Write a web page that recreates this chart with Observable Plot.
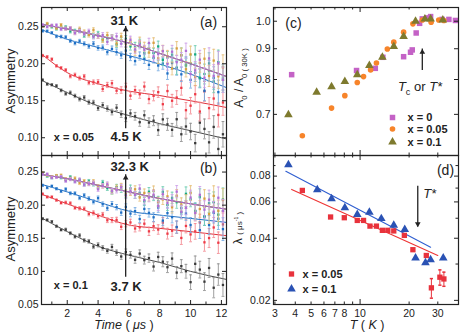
<!DOCTYPE html>
<html><head><meta charset="utf-8">
<script src="https://cdn.jsdelivr.net/npm/d3@7"></script>
<script src="https://cdn.jsdelivr.net/npm/@observablehq/plot@0.6"></script>
<style>
html,body{margin:0;padding:0;background:#fff;}
#fig{position:relative;width:463px;height:335px;overflow:hidden;font-family:"Liberation Sans",Arial,Helvetica,sans-serif;color:#222;background:#fff;}
.lbl{position:absolute;white-space:nowrap;transform:translate(-50%,-50%);line-height:1;}
.lbl sub,.lbl sup{font-size:65%;}
</style></head><body><div id="fig"></div>
<script>
// ---------------- DATA ----------------
const timeUs = [0.4,0.7,1.0,1.3,1.6,1.9,2.2,2.5,2.8,3.1,3.4,3.7,4.0,4.3,4.6,4.9,5.2,5.5,5.8,6.1,6.4,6.7,7.0,7.3,7.6,7.9,8.2,8.5,8.8,9.1,9.4,9.7,10.0,10.3,10.6,10.9,11.2,11.5,11.8,12.1];
const errBar = [0.0016,0.0017,0.0017,0.0018,0.0019,0.0021,0.0022,0.0023,0.0025,0.0026,0.0028,0.003,0.0031,0.0033,0.0035,0.0038,0.004,0.0043,0.0046,0.0049,0.0052,0.0055,0.0059,0.0063,0.0067,0.0071,0.0076,0.0081,0.0086,0.0092,0.0098,0.0104,0.0111,0.0118,0.0126,0.0134,0.0143,0.0152,0.0162,0.0172];

// panel (a): x = 0.05, 4.5 K ... 31 K
const asymA_black = [0.178,0.1725,0.1715,0.170,0.164,0.1595,0.1608,0.1565,0.1522,0.1544,0.1479,0.1475,0.1399,0.144,0.1394,0.1347,0.1406,0.1317,0.1264,0.1329,0.129,0.121,0.1304,0.1205,0.123,0.1103,0.1248,0.1181,0.1107,0.125,0.1047,0.1152,0.1084,0.0927,0.1204,0.1119,0.0938,0.1146,0.0848,0.1047];
const asymA_red = [0.211,0.2093,0.2061,0.1971,0.1943,0.1914,0.1831,0.1849,0.1805,0.1829,0.1745,0.1749,0.1753,0.1659,0.1713,0.1736,0.1636,0.1645,0.169,0.1568,0.1643,0.1589,0.1692,0.1523,0.1566,0.1616,0.1453,0.1631,0.150,0.1543,0.1674,0.1372,0.1433,0.1588,0.1354,0.1626,0.140,0.153,0.1308,0.1476];
const asymA_blue = [0.2443,0.244,0.2418,0.237,0.2366,0.2358,0.2309,0.2278,0.2304,0.227,0.2235,0.2271,0.2214,0.2219,0.2156,0.2201,0.2158,0.2115,0.2177,0.2091,0.2036,0.2104,0.2063,0.1985,0.2077,0.1976,0.2002,0.1869,0.2009,0.1937,0.1857,0.199,0.1782,0.1878,0.1801,0.1635,0.1903,0.1807,0.1616,0.1814];
const asymA_green = [0.2515,0.2529,0.2498,0.2471,0.249,0.2494,0.2438,0.2443,0.2447,0.2382,0.2408,0.2374,0.2406,0.233,0.2341,0.2353,0.2259,0.2313,0.2336,0.2234,0.2237,0.2276,0.2146,0.2209,0.2143,0.2234,0.2053,0.2084,0.2122,0.1948,0.2115,0.1974,0.2006,0.2126,0.1811,0.1861,0.2005,0.1761,0.2022,0.1786];
const asymA_orange = [0.251,0.2542,0.2513,0.2483,0.2524,0.2473,0.2481,0.2422,0.2469,0.243,0.2389,0.2455,0.2372,0.2319,0.2389,0.235,0.2275,0.2369,0.227,0.2298,0.2165,0.2304,0.2231,0.2151,0.2283,0.2074,0.2173,0.2099,0.1936,0.2207,0.2114,0.1926,0.2127,0.1821,0.2012,0.2068,0.1835,0.2043,0.183,0.1948];
const asymA_purple = [0.2525,0.2499,0.2518,0.2521,0.2467,0.2474,0.2479,0.2414,0.244,0.2406,0.2438,0.2364,0.2376,0.2388,0.2294,0.2348,0.2371,0.2271,0.228,0.2323,0.2193,0.2256,0.219,0.2281,0.21,0.2131,0.2169,0.1995,0.2162,0.2021,0.2053,0.2174,0.1861,0.1911,0.2055,0.1811,0.2072,0.1836,0.2005,0.1783];

// panel (b): x = 0.1, 3.7 K ... 32.3 K
const asymB_black = [0.1795,0.1776,0.1751,0.1682,0.1628,0.1631,0.1577,0.1525,0.1542,0.1468,0.1454,0.1374,0.140,0.1355,0.131,0.137,0.1282,0.1225,0.1292,0.125,0.1175,0.1269,0.117,0.120,0.1073,0.1218,0.1146,0.1063,0.1193,0.0982,0.1079,0.1002,0.0837,0.1114,0.1027,0.0845,0.1052,0.0753,0.0952,0.0795];
const asymB_red = [0.2168,0.2124,0.2123,0.2076,0.2035,0.2039,0.2028,0.196,0.1952,0.1945,0.1867,0.1882,0.1835,0.1857,0.1772,0.1774,0.1777,0.1674,0.1719,0.1739,0.1648,0.1666,0.172,0.1605,0.1683,0.1632,0.1737,0.157,0.1614,0.1666,0.1505,0.1686,0.1558,0.1604,0.1738,0.1439,0.1503,0.1663,0.1433,0.171];
const asymB_blue = [0.230,0.2264,0.2287,0.2248,0.221,0.2241,0.2179,0.2178,0.2109,0.2148,0.2099,0.205,0.2106,0.2015,0.1954,0.2017,0.197,0.1888,0.1974,0.1873,0.191,0.1791,0.1943,0.1884,0.1817,0.1963,0.1767,0.188,0.1819,0.167,0.1954,0.1875,0.170,0.1915,0.1623,0.183,0.170,0.1883,0.1795,0.1638];
const asymB_green = [0.248,0.2439,0.2413,0.2444,0.2415,0.2386,0.2424,0.2369,0.2375,0.2314,0.236,0.2319,0.2277,0.2341,0.2257,0.2204,0.2274,0.2235,0.216,0.2254,0.2155,0.2185,0.2058,0.2203,0.2136,0.2062,0.2202,0.2002,0.211,0.2045,0.1891,0.2171,0.2087,0.191,0.2121,0.1827,0.203,0.2048,0.1857,0.2087];
const asymB_orange = [0.2485,0.2454,0.2428,0.2446,0.245,0.2396,0.240,0.2403,0.2336,0.2361,0.2325,0.2356,0.228,0.2291,0.2303,0.2209,0.2263,0.2286,0.2186,0.2195,0.224,0.2116,0.2185,0.2125,0.2222,0.2047,0.2086,0.2133,0.1968,0.2144,0.2012,0.2053,0.2183,0.1881,0.1942,0.2099,0.1866,0.214,0.1915,0.2077];
const asymB_purple = [0.2465,0.2469,0.2415,0.2421,0.2428,0.2365,0.2391,0.2355,0.2386,0.231,0.2321,0.2333,0.2239,0.2293,0.2316,0.2216,0.2225,0.227,0.2146,0.2215,0.2155,0.2252,0.2077,0.2114,0.2158,0.199,0.2165,0.2033,0.2074,0.2204,0.19,0.196,0.2115,0.1883,0.2156,0.1932,0.2083,0.1903,0.2112,0.1912];

// fitted curves (a), (b)
const fitT = [0.4, 2, 4, 6, 8, 10, 12.3];
const fitA_black = [0.177,0.161,0.143,0.130,0.119,0.1095,0.0985];
const fitA_red = [0.212,0.188,0.173,0.163,0.157,0.150,0.141];
const fitA_blue = [0.2455,0.233,0.222,0.211,0.1995,0.186,0.168];
const fitA_high = [0.253,0.247,0.238,0.228,0.214,0.200,0.183];
const fitB_black = [0.180,0.160,0.138,0.1245,0.1135,0.100,0.088];
const fitB_red = [0.216,0.202,0.185,0.170,0.165,0.160,0.154];
const fitB_blue = [0.231,0.220,0.205,0.191,0.185,0.180,0.174];
const fitB_high = [0.246,0.240,0.230,0.220,0.210,0.202,0.194];

// panel (c): A0 / A0(30K) vs T
const tempC_x0 = [3.80,9.51,12.4,13.8,18.5,20.4,20.9,22.1,23.2,24.1,25.8,27.1,31.9,35.1,38.5];
const ratioC_x0 = [0.815,0.828,0.835,0.871,0.873,0.888,0.896,0.956,0.992,1.009,1.013,1.018,1.007,1.007,1.003];
const tempC_x005 = [4.42,6.68,8.06,9.61,10.5,11.6,12.6,14.7,16.1,18.5,21.1,24.1,27.3,30.4,32.7];
const ratioC_x005 = [0.645,0.717,0.752,0.791,0.809,0.830,0.852,0.899,0.923,0.959,0.990,1.005,0.996,1.005,1.003];
const tempC_x01 = [3.63,5.41,6.68,8.06,9.61,11.4,13.7,16.1,18.5,21.9,25.0,27.1,32.2];
const ratioC_x01 = [0.699,0.762,0.778,0.794,0.815,0.844,0.871,0.908,0.943,1.0,1.009,1.009,1.005];

// panel (d): lambda vs T
const tempD_x005 = [4.42,6.59,8.0,9.61,10.5,11.5,12.6,13.7,14.8,16.1,18.7,21.1,25.5,27.4,30.9,32.7];
const lamD_x005 = [0.0682,0.0507,0.0503,0.0488,0.0488,0.0458,0.0458,0.0437,0.0437,0.0434,0.0413,0.0352,0.0330,0.0230,0.0259,0.0254];
const lamErr_x005 = [0,0,0,0,0,0,0,0,0,0,0,0,0,0.0025,0.0022,0.002];
const tempD_x01 = [3.63,5.46,6.68,8.06,9.61,11.4,13.5,16.1,18.8,21.9,25.2,27.1,32.4];
const lamD_x01 = [0.0908,0.0687,0.0622,0.0562,0.0522,0.0535,0.0498,0.0462,0.0441,0.0321,0.0304,0.0315,0.0321];
const fitD_T_x005 = [3.8, 30.0], fitD_L_x005 = [0.069, 0.0330];
const fitD_T_x01 = [3.5, 27.1], fitD_L_x01 = [0.0845, 0.0362];

// tick values
const timeTicks = [2,4,6,8,10,12];
const timeMinor = [1,3,5,7,9,11];
const asymTicksA = [0.10,0.15,0.20,0.25];
const asymTicksB = [0.05,0.10,0.15,0.20,0.25];
const tempTickLabels = [3,4,5,6,7,8,10,20,30];
const tempMinor = [3,4,5,6,7,8,9,20,30];
const tempMajor = [10];
const ratioTicks = [0.7,0.8,0.9,1.0];
const lamTicks = [0.02,0.04,0.06,0.08];
const lamMinor = [0.03,0.05,0.07,0.09];

// annotations
const arrowA = [{t:5.79, lo:0.112, hi:0.2503}];
const arrowB = [{t:5.79, lo:0.0912, hi:0.2459}];
const tempLabA = [{t:4.81, v:0.2584, s:"31 K"}, {t:4.81, v:0.1007, s:"4.5 K"}];
const tempLabB = [{t:4.81, v:0.2573, s:"32.3 K"}, {t:4.81, v:0.0761, s:"3.7 K"}];
const dopA = [{t:1.13, v:0.1007, s:"x = 0.05"}];
const dopB = [{t:1.13, v:0.0787, s:"x = 0.1"}];
const arrowC = [{T:24.1, lo:0.828, hi:0.899}];
const arrowD = [{T:22.6, hi:0.0715, lo:0.0453}];
const tStarD = [{T:24.4, v:0.0657, s:"T*"}];
const legendC = ["x = 0", "x = 0.05", "x = 0.1"];
const legendD = ["x = 0.05", "x = 0.1"];

// ---------------- DRAWING ----------------
const fig = document.getElementById("fig");
const FONT = "Liberation Sans, Arial, Helvetica, sans-serif";
const INK = "#222";
const baseStyle = {fontFamily: FONT, fontSize: "10px", background: "transparent", overflow: "visible", color: INK};
const capSym = {draw(ctx, size){ const h = Math.sqrt(size)/2; ctx.moveTo(-h,0); ctx.lineTo(h,0); }};

const COL = {
  black: {dot:"#3a3a3a", err:"#8e8e8e", line:"#4a4a4a"},
  red: {dot:"#ee3a46", err:"#f2848c", line:"#e0303a"},
  blue: {dot:"#1f6fc4", err:"#6fa6e0", line:"#1f6fc4"},
  green: {dot:"#16a882", err:"#6ccbb0", line:"#12a078"},
  orange: {dot:"#d6a042", err:"#e6bf78", line:"#c99030"},
  purple: {dot:"#b06ed6", err:"#cda0e8", line:"#a462cc"}
};

function place(svg, left, top){ svg.style.position="absolute"; svg.style.left=left+"px"; svg.style.top=top+"px"; fig.appendChild(svg); return svg; }
function tX(vals, len, fh, side){ return Plot.tickX(vals, {x:d=>d, stroke:INK, strokeWidth:1, ...(side==="bottom"?{insetTop:fh-len}:{insetBottom:fh-len})}); }
function tY(vals, len, fw, side){ return Plot.tickY(vals, {y:d=>d, stroke:INK, strokeWidth:1, ...(side==="left"?{insetRight:fw-len}:{insetLeft:fw-len})}); }

function tsMarks(series){
  const out = [];
  for (const s of series){
    const rows = timeUs.map((t,i)=>({t, v:s.vals[i], e:errBar[i]}));
    out.push(Plot.line(fitT.map((t,i)=>({t, v:s.fit[i]})), {x:"t", y:"v", stroke:s.c.line, strokeWidth:1, curve:"monotone-x", clip:true}));
    out.push(Plot.ruleX(rows, {x:"t", y1:d=>d.v-d.e, y2:d=>d.v+d.e, stroke:s.c.err, strokeWidth:0.85, clip:true}));
    out.push(Plot.dot(rows, {x:"t", y:d=>d.v+d.e, symbol:capSym, r:1.6, stroke:s.c.err, strokeWidth:0.85, fill:"none", clip:true}));
    out.push(Plot.dot(rows, {x:"t", y:d=>d.v-d.e, symbol:capSym, r:1.6, stroke:s.c.err, strokeWidth:0.85, fill:"none", clip:true}));
    out.push(Plot.dot(rows, {x:"t", y:"v", symbol:"square", r:1.3, fill:s.c.dot, stroke:"none", clip:true}));
  }
  return out;
}

function timePanel({series, yDomain, yTicks, arrow, tempLab, dop, tag, height, marginTop, marginBottom, xLabels, tagDy}){
  const fh = height - marginTop - marginBottom, fw = 185;
  const marks = [
    ...tsMarks(series),
    Plot.ruleX(arrow, {x:"t", y1:"lo", y2:"hi", stroke:INK, strokeWidth:1.3}),
    Plot.dot(arrow, {x:"t", y:"hi", symbol:"triangle", r:2.1, fill:INK, stroke:"none", dy:3.2}),
    Plot.text(tempLab, {x:"t", y:"v", text:"s", textAnchor:"start", fontWeight:"bold", fontSize:13, fill:INK}),
    Plot.text(dop, {x:"t", y:"v", text:"s", textAnchor:"start", fontWeight:"bold", fontSize:11, fill:INK}),
    Plot.text([tag], {frameAnchor:"top-right", dx:-18, dy:tagDy, lineAnchor:"middle", textAnchor:"middle", fontSize:14, fill:INK}),
    Plot.frame({stroke:INK, strokeWidth:1.2}),
    tX(timeTicks, 4, fh, "bottom"), tX(timeMinor, 2.5, fh, "bottom"),
    tX(timeTicks, 4, fh, "top"), tX(timeMinor, 2.5, fh, "top"),
    tY(yTicks, 4, fw, "left"), tY(yTicks, 4, fw, "right"),
    Plot.text(yTicks, {y:d=>d, frameAnchor:"left", dx:-3, textAnchor:"end", text:d=>d.toFixed(2), fontSize:10.5, fill:INK})
  ];
  if (xLabels) marks.push(Plot.text(timeTicks, {x:d=>d, frameAnchor:"bottom", dy:9, lineAnchor:"middle", text:d=>String(d), fontSize:10.5, fill:INK}));
  return Plot.plot({
    width:230, height, marginLeft:41, marginRight:4, marginTop, marginBottom,
    style: baseStyle,
    x: {domain:[0.33, 12.33], axis:null},
    y: {domain: yDomain, axis:null},
    marks
  });
}

const plotA = timePanel({
  series: [
    {vals:asymA_black, fit:fitA_black, c:COL.black},
    {vals:asymA_red, fit:fitA_red, c:COL.red},
    {vals:asymA_blue, fit:fitA_blue, c:COL.blue},
    {vals:asymA_green, fit:fitA_high, c:COL.green},
    {vals:asymA_orange, fit:fitA_high, c:COL.orange},
    {vals:asymA_purple, fit:fitA_high, c:COL.purple}
  ],
  yDomain:[0.076, 0.276], yTicks:asymTicksA, arrow:arrowA, tempLab:tempLabA, dop:dopA, tag:"(a)",
  height:156, marginTop:7, marginBottom:1, xLabels:false, tagDy:15
});
place(plotA, 0, 0);

const plotB = timePanel({
  series: [
    {vals:asymB_black, fit:fitB_black, c:COL.black},
    {vals:asymB_red, fit:fitB_red, c:COL.red},
    {vals:asymB_blue, fit:fitB_blue, c:COL.blue},
    {vals:asymB_green, fit:fitB_high, c:COL.green},
    {vals:asymB_orange, fit:fitB_high, c:COL.orange},
    {vals:asymB_purple, fit:fitB_high, c:COL.purple}
  ],
  yDomain:[0.05, 0.275], yTicks:asymTicksB, arrow:arrowB, tempLab:tempLabB, dop:dopB, tag:"(b)",
  height:180, marginTop:0, marginBottom:31, xLabels:true, tagDy:13
});
place(plotB, 0, 155);

// panel (c)
const PURPLE = "#c462c6", ORANGE = "#f7842a", OLIVE = "#7e7a2e", RED = "#e8323c", BLUE = "#2a52b4";
const fhC = 148, fwC = 185;
const rowsC0 = tempC_x0.map((T,i)=>({T, a:ratioC_x0[i]}));
const rowsC1 = tempC_x005.map((T,i)=>({T, a:ratioC_x005[i]}));
const rowsC2 = tempC_x01.map((T,i)=>({T, a:ratioC_x01[i]}));
const legSym = [{symbol:"square", r:3.1, fill:PURPLE}, {symbol:"circle", r:2.8, fill:ORANGE}, {symbol:"triangle", r:3.2, fill:OLIVE}];
const legDy = [-38, -26.5, -13.5];
const plotC = Plot.plot({
  width:233, height:156, marginLeft:43, marginRight:5, marginTop:7, marginBottom:1,
  style: baseStyle,
  x: {type:"log", domain:[2.94, 40.2], axis:null},
  y: {type:"log", domain:[0.598, 1.054], axis:null},
  marks: [
    Plot.dot(rowsC0, {x:"T", y:"a", symbol:"square", r:3.1, fill:PURPLE, stroke:"none"}),
    Plot.dot(rowsC1, {x:"T", y:"a", symbol:"circle", r:2.8, fill:ORANGE, stroke:"none"}),
    Plot.dot(rowsC2, {x:"T", y:"a", symbol:"triangle", r:3.2, fill:OLIVE, stroke:"none"}),
    Plot.ruleX(arrowC, {x:"T", y1:"lo", y2:"hi", stroke:INK, strokeWidth:1.3}),
    Plot.dot(arrowC, {x:"T", y:"hi", symbol:"triangle", r:2.1, fill:INK, stroke:"none", dy:3.2}),
    ...legendC.flatMap((s,i)=>[
      Plot.dot([s], {frameAnchor:"bottom-right", dx:-66, dy:legDy[i], ...legSym[i], stroke:"none"}),
      Plot.text([s], {frameAnchor:"bottom-right", dx:-51, dy:legDy[i], lineAnchor:"middle", textAnchor:"start", fontWeight:"bold", fontSize:11, fill:INK})
    ]),
    Plot.text(["(c)"], {frameAnchor:"top-left", dx:20, dy:16, lineAnchor:"middle", textAnchor:"middle", fontSize:14, fill:INK}),
    Plot.frame({stroke:INK, strokeWidth:1.2}),
    tX(tempMinor, 2.5, fhC, "bottom"), tX(tempMajor, 5, fhC, "bottom"),
    tX(tempMinor, 2.5, fhC, "top"), tX(tempMajor, 5, fhC, "top"),
    tY(ratioTicks, 4, fwC, "left"), tY(ratioTicks, 4, fwC, "right"),
    Plot.text(ratioTicks, {y:d=>d, frameAnchor:"left", dx:-3, textAnchor:"end", text:d=>d.toFixed(1), fontSize:10.5, fill:INK})
  ]
});
place(plotC, 230, 0);
{
  const sx = plotC.scale("x"), sy = plotC.scale("y");
  const t = d3.select(plotC).append("text")
    .attr("x", sx.apply(23.5)).attr("y", sy.apply(0.772))
    .attr("text-anchor","middle").attr("dominant-baseline","middle")
    .attr("fill", INK).style("font-size","13px").style("font-family", FONT);
  t.append("tspan").style("font-style","italic").text("T");
  t.append("tspan").attr("baseline-shift","sub").style("font-size","9px").text("c");
  t.append("tspan").text(" or ");
  t.append("tspan").style("font-style","italic").text("T*");
}

// panel (d)
const fhD = 149, fwD = 185;
const rowsD0 = tempD_x005.map((T,i)=>({T, l:lamD_x005[i], e:lamErr_x005[i]}));
const rowsD1 = tempD_x01.map((T,i)=>({T, l:lamD_x01[i]}));
const errRowsD0 = rowsD0.filter(d=>d.e>0);
const fitRowsD0 = fitD_T_x005.map((T,i)=>({T, l:fitD_L_x005[i]}));
const fitRowsD1 = fitD_T_x01.map((T,i)=>({T, l:fitD_L_x01[i]}));
const legSymD = [{symbol:"square", r:3.0, fill:RED}, {symbol:"triangle", r:3.2, fill:BLUE}];
const legDyD = [-30.5, -15.5];
const plotD = Plot.plot({
  width:233, height:180, marginLeft:43, marginRight:5, marginTop:0, marginBottom:31,
  style: baseStyle,
  x: {type:"log", domain:[2.94, 40.2], axis:null},
  y: {type:"log", domain:[0.0191, 0.1007], axis:null},
  marks: [
    Plot.line(fitRowsD1, {x:"T", y:"l", stroke:"#2f5ed0", strokeWidth:1.1}),
    Plot.line(fitRowsD0, {x:"T", y:"l", stroke:"#ee3434", strokeWidth:1.1}),
    Plot.ruleX(errRowsD0, {x:"T", y1:d=>d.l-d.e, y2:d=>d.l+d.e, stroke:RED, strokeWidth:1}),
    Plot.dot(errRowsD0, {x:"T", y:d=>d.l+d.e, symbol:capSym, r:1.8, stroke:RED, fill:"none"}),
    Plot.dot(errRowsD0, {x:"T", y:d=>d.l-d.e, symbol:capSym, r:1.8, stroke:RED, fill:"none"}),
    Plot.dot(rowsD0, {x:"T", y:"l", symbol:"square", r:3.0, fill:RED, stroke:"none"}),
    Plot.dot(rowsD1, {x:"T", y:"l", symbol:"triangle", r:3.2, fill:BLUE, stroke:"none", clip:true}),
    Plot.ruleX(arrowD, {x:"T", y1:"lo", y2:"hi", stroke:INK, strokeWidth:1.3}),
    Plot.dot(arrowD, {x:"T", y:"lo", symbol:"triangle", r:2.1, fill:INK, stroke:"none", rotate:180, dy:-3.2}),
    Plot.text(tStarD, {x:"T", y:"v", text:"s", textAnchor:"start", fontStyle:"italic", fontSize:13, fill:INK}),
    ...legendD.flatMap((s,i)=>[
      Plot.dot([s], {frameAnchor:"bottom-left", dx:18, dy:legDyD[i], ...legSymD[i], stroke:"none"}),
      Plot.text([s], {frameAnchor:"bottom-left", dx:29, dy:legDyD[i], lineAnchor:"middle", textAnchor:"start", fontWeight:"bold", fontSize:11, fill:INK})
    ]),
    Plot.text(["(d)"], {frameAnchor:"top-right", dx:-13, dy:15, lineAnchor:"middle", textAnchor:"middle", fontSize:14, fill:INK}),
    Plot.frame({stroke:INK, strokeWidth:1.2}),
    tX(tempMinor, 2.5, fhD, "bottom"), tX(tempMajor, 5, fhD, "bottom"),
    tX(tempMinor, 2.5, fhD, "top"), tX(tempMajor, 5, fhD, "top"),
    tY(lamTicks, 4, fwD, "left"), tY(lamTicks, 4, fwD, "right"),
    tY(lamMinor, 2.5, fwD, "left"), tY(lamMinor, 2.5, fwD, "right"),
    Plot.text(lamTicks, {y:d=>d, frameAnchor:"left", dx:-3, textAnchor:"end", text:d=>d.toFixed(2), fontSize:10.5, fill:INK}),
    Plot.text(tempTickLabels, {x:d=>d, frameAnchor:"bottom", dy:9, lineAnchor:"middle", text:d=>String(d), fontSize:10.5, fill:INK})
  ]
});
place(plotD, 230, 155);

// axis titles
function label(html, x, y, css, rotate){
  const d = document.createElement("div");
  d.className = "lbl"; d.innerHTML = html;
  d.style.left = x + "px"; d.style.top = y + "px";
  if (rotate) d.style.transform = "translate(-50%,-50%) rotate(-90deg)";
  Object.assign(d.style, css || {});
  fig.appendChild(d);
}
label("Asymmetry", 10, 81, {fontSize:"13px"}, true);
label("Asymmetry", 10, 229, {fontSize:"13px"}, true);
label("<i>Time</i> ( <i>μs</i> )", 124, 325, {fontSize:"12.5px"});
label("<i>T</i> ( <i>K</i> )", 367, 325, {fontSize:"12.5px"});
label("A<sub>0</sub> / A<sub>0 ( 30K )</sub>", 241, 78, {fontSize:"12px"}, true);
label("λ <span style='font-size:8px'>( μs<sup>-1</sup> )</span>", 238, 228, {fontSize:"12px"}, true);
</script></body></html>
